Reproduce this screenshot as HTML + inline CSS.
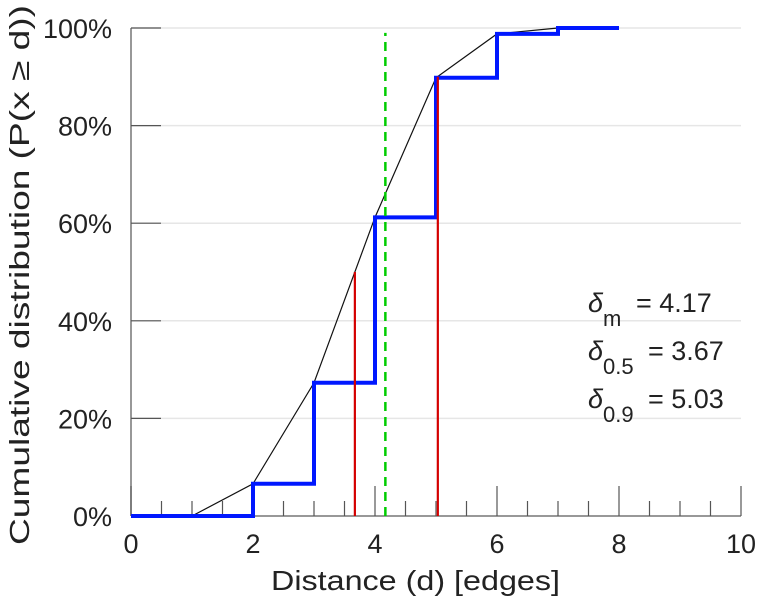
<!DOCTYPE html>
<html><head><meta charset="utf-8"><style>
body{margin:0;background:#fff;}
svg text{font-family:"Liberation Sans",sans-serif;fill:#222;}
</style></head><body>
<svg id="chart" width="759" height="600" xmlns="http://www.w3.org/2000/svg"></svg>
<script>
const distances=[0,1,2,3,4,5,6,7];
const cdfValues=[0,0,6.6,27.3,61.2,89.8,98.8,100];
const xTickLabels=[0,2,4,6,8,10];
const yTickLabels=[0,20,40,60,80,100];
const quantiles=[{v:3.67,p:50},{v:5.03,p:90}];
const meanValue=4.17;
const NS="http://www.w3.org/2000/svg";
const svg=document.getElementById('chart');
const X=d=>131+d*61;
const Y=p=>516-p*4.88;
function el(t,a,parent){const e=document.createElementNS(NS,t);for(const k in a)e.setAttribute(k,a[k]);(parent||svg).appendChild(e);return e;}
yTickLabels.forEach(v=>{if(v>0){const g=el('line',{x1:131,x2:741,y1:Y(v),y2:Y(v),stroke:'#e6e6e6','stroke-width':1.5});

}});
const ax=el('line',{x1:131,x2:741,y1:516,y2:516,stroke:'#777','stroke-width':1.5});


const ay=el('line',{x1:131,x2:131,y1:28,y2:516,stroke:'#777','stroke-width':1.5});


for(let i=0;i<=20;i++){const d=i/2;const len=(i%4==0)?30:15;
const t=el('line',{x1:X(d),x2:X(d),y1:516,y2:516-len,stroke:'#555','stroke-width':1.2});

}
xTickLabels.forEach(v=>{const t=el('text',{x:X(v),y:553,'font-size':27,'text-anchor':'middle'});t.textContent=v;

});
yTickLabels.forEach(v=>{const t=el('line',{x1:131,x2:161,y1:Y(v),y2:Y(v),stroke:'#555','stroke-width':1.2});


const l=el('text',{x:112,y:Y(v)+10,'font-size':27,'text-anchor':'end'});l.textContent=v+'%';

});
let pts=distances.slice(1).map((d,i)=>X(d)+','+Y(cdfValues[i+1]));
pts.push(X(distances[distances.length-1]+1)+','+Y(cdfValues[cdfValues.length-1]));
const bl=el('polyline',{points:pts.join(' '),fill:'none',stroke:'#111','stroke-width':1.2});


let s=[];distances.forEach((d,i)=>{s.push(X(d)+','+Y(cdfValues[i]));s.push(X(d+1)+','+Y(cdfValues[i]));});
const st=el('polyline',{points:s.join(' '),fill:'none',stroke:'#0018ff','stroke-width':4});


quantiles.forEach(q=>{const r=el('line',{x1:X(q.v),x2:X(q.v),y1:516,y2:Y(q.p),stroke:'#d40000','stroke-width':2.2});

});
const gm=el('line',{x1:X(meanValue),x2:X(meanValue),y1:516,y2:Y(99),stroke:'#00cc00','stroke-width':2.5,'stroke-dasharray':'9,6'});


</script>
<svg width="759" height="600" style="position:absolute;left:0;top:0">
<text x="271" y="590" font-size="28" textLength="289" lengthAdjust="spacingAndGlyphs">Distance (d) [edges]</text>
<text transform="translate(29,545) rotate(-90)" font-size="28" textLength="540" lengthAdjust="spacingAndGlyphs">Cumulative distribution (P(x   ≥ d))</text>
<g font-size="27">
<text x="588" y="312" font-style="italic">δ</text><text x="603" y="326" font-size="22">m</text><text x="636" y="312">= 4.17</text>
<text x="588" y="360" font-style="italic">δ</text><text x="603" y="374" font-size="22">0.5</text><text x="648" y="360">= 3.67</text>
<text x="588" y="408" font-style="italic">δ</text><text x="603" y="422" font-size="22">0.9</text><text x="648" y="408">= 5.03</text>
</g>
</svg>
</body></html>
